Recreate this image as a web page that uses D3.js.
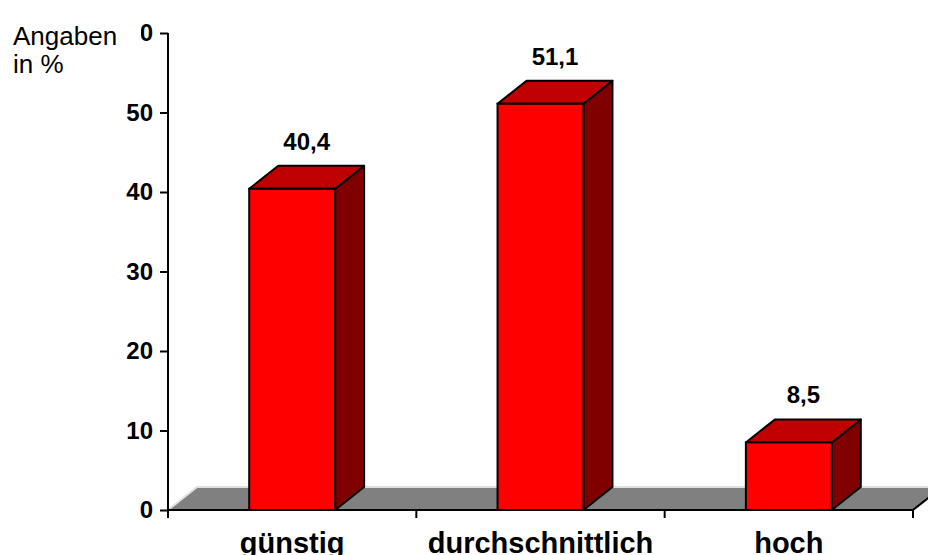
<!DOCTYPE html>
<html>
<head>
<meta charset="utf-8">
<script src="https://cdn.jsdelivr.net/npm/d3@7"></script>
<style>
  html, body { margin: 0; padding: 0; background: #fff; }
  svg { display: block; font-family: "Liberation Sans", Arial, sans-serif; }
</style>
</head>
<body>
<svg id="chart" width="928" height="555"></svg>
<script>
// Kostenbewertung, Angaben in %
const categories = ["günstig", "durchschnittlich", "hoch"];
const values = [40.4, 51.1, 8.5];
const valueLabels = ["40,4", "51,1", "8,5"];
const yTicks = [0, 10, 20, 30, 40, 50, 60];

const svg = d3.select("#chart");
const plotLeft = 168, plotRight = 913, plotBase = 510, plotTop = 33;
const depthX = 29, depthY = 23;

const x = d3.scaleBand().domain(categories).range([plotLeft, plotRight]).padding(0);
const y = d3.scaleLinear().domain([0, 60]).range([plotBase, plotTop]);
const barW = x.bandwidth() * 0.346;

// floor
svg.append("path")
  .attr("d", `M${plotLeft},${plotBase} L${plotLeft + depthX},${plotBase - depthY} L${plotRight + depthX},${plotBase - depthY} L${plotRight},${plotBase} Z`)
  .attr("fill", "#808080");
svg.append("path")
  .attr("d", `M${plotLeft},${plotBase} L${plotLeft + depthX},${plotBase - depthY} L${plotRight + depthX},${plotBase - depthY}`)
  .attr("fill", "none").attr("stroke", "#e0e0e0").attr("stroke-width", 2);
svg.append("line")
  .attr("x1", plotRight).attr("y1", plotBase).attr("x2", plotRight + depthX).attr("y2", plotBase - depthY)
  .attr("stroke", "#000").attr("stroke-width", 2);

// 3D bars
const bars = svg.append("g").selectAll("g").data(categories).join("g");
bars.each(function(c, i) {
  const g = d3.select(this);
  const x0 = x(c) + (x.bandwidth() - barW) / 2, x1 = x0 + barW;
  const yt = y(values[i]);
  g.append("path")
    .attr("d", `M${x1},${plotBase} L${x1 + depthX},${plotBase - depthY} L${x1 + depthX},${yt - depthY} L${x1},${yt} Z`)
    .attr("fill", "#800000").attr("stroke", "#000").attr("stroke-width", 2).attr("stroke-linejoin", "round");
  g.append("path")
    .attr("d", `M${x0},${yt} L${x0 + depthX},${yt - depthY} L${x1 + depthX},${yt - depthY} L${x1},${yt} Z`)
    .attr("fill", "#c00000").attr("stroke", "#000").attr("stroke-width", 2).attr("stroke-linejoin", "round");
  g.append("rect")
    .attr("x", x0).attr("y", yt).attr("width", barW).attr("height", plotBase - yt)
    .attr("fill", "#ff0000").attr("stroke", "#000").attr("stroke-width", 2);
  g.append("text")
    .attr("x", x0 + barW / 2 + depthX / 2).attr("y", yt - 39)
    .attr("text-anchor", "middle").attr("font-weight", "bold").attr("font-size", 24)
    .text(valueLabels[i]);
});

// y axis
const yAxis = svg.append("g").attr("transform", `translate(${plotLeft},0)`)
  .call(d3.axisLeft(y).tickValues(yTicks).tickFormat(d3.format("d")).tickSize(8).tickPadding(7));
yAxis.select(".domain").remove();
yAxis.selectAll(".tick line").attr("stroke", "#000").attr("stroke-width", 2);
yAxis.selectAll(".tick text").attr("font-size", 24).attr("font-weight", "bold")
  .attr("font-family", "Liberation Sans, Arial, sans-serif").attr("fill", "#000");
svg.append("line").attr("x1", plotLeft).attr("x2", plotLeft).attr("y1", plotTop).attr("y2", plotBase + 8)
  .attr("stroke", "#000").attr("stroke-width", 2);

// x axis
svg.append("line").attr("x1", plotLeft).attr("x2", plotRight).attr("y1", plotBase).attr("y2", plotBase)
  .attr("stroke", "#000").attr("stroke-width", 2);
const bounds = categories.map(c => x(c)).concat([plotRight]);
svg.append("g").selectAll("line").data(bounds).join("line")
  .attr("x1", d => d).attr("x2", d => d).attr("y1", plotBase).attr("y2", plotBase + 8)
  .attr("stroke", "#000").attr("stroke-width", 2);
const xAxis = svg.append("g").attr("transform", `translate(0,${plotBase})`)
  .call(d3.axisBottom(x).tickSize(0).tickPadding(22));
xAxis.select(".domain").remove();
xAxis.selectAll(".tick text").attr("font-size", 29).attr("font-weight", "bold")
  .attr("font-family", "Liberation Sans, Arial, sans-serif").attr("fill", "#000")
  .attr("dy", "0.71em");

// axis title box
const title = svg.append("g");
title.append("rect").attr("x", 0).attr("y", 0).attr("width", 141).attr("height", 80).attr("fill", "#fff");
const tt = title.append("text").attr("font-size", 26).attr("fill", "#000");
tt.append("tspan").attr("x", 13).attr("y", 45).text("Angaben");
tt.append("tspan").attr("x", 13).attr("y", 73).text("in %");
</script>
</body>
</html>
